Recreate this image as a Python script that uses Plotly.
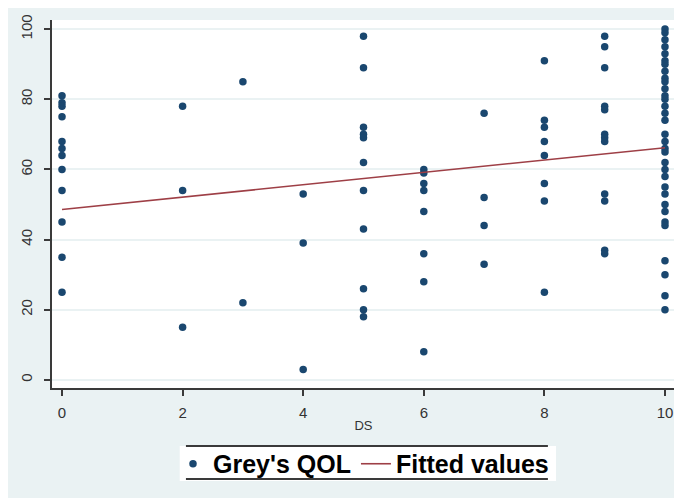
import plotly.graph_objects as go

# ---- data ----
ds_0 = [81, 79, 78, 75, 68, 66, 64, 60, 54, 45, 35, 25]
ds_2 = [78, 54, 15]
ds_3 = [85, 22]
ds_4 = [53, 39, 3]
ds_5 = [98, 89, 72, 70, 69, 62, 54, 43, 26, 20, 18]
ds_6 = [60, 59, 56, 54, 48, 36, 28, 8]
ds_7 = [76, 52, 44, 33]
ds_8 = [91, 74, 72, 68, 64, 56, 51, 25]
ds_9 = [98, 95, 89, 78, 77, 70, 69, 68, 53, 51, 37, 36]
ds_10 = [100, 99, 97, 95, 93, 91, 90, 88, 86, 85, 83, 81, 80, 78, 76, 74,
         70, 68, 66, 65, 62, 60, 58, 55, 53, 50, 48, 45, 44, 34, 30, 24, 20]

groups = {0: ds_0, 2: ds_2, 3: ds_3, 4: ds_4, 5: ds_5, 6: ds_6,
          7: ds_7, 8: ds_8, 9: ds_9, 10: ds_10}

ds_values = [k for k, v in groups.items() for _ in v]
qol_values = [q for v in groups.values() for q in v]

fit_x = [0, 10]
fit_y = [48.6, 66.2]

x_ticks = [0, 2, 4, 6, 8, 10]
y_ticks = [0, 20, 40, 60, 80, 100]

# ---- styles ----
NAVY = "#1A476F"
MAROON = "#9E3F46"
BLUISH = "#EAF2F3"
AXIS = "#3A3A3A"

fig = go.Figure()
fig.add_trace(go.Scatter(
    x=ds_values, y=qol_values, mode="markers", name="Grey's QOL",
    marker=dict(color=NAVY, size=7.5, line=dict(width=0)),
))
fig.add_trace(go.Scatter(
    x=fit_x, y=fit_y, mode="lines", name="Fitted values",
    line=dict(color=MAROON, width=1.6),
))

# legend frame: white box with top/bottom rules (paper coordinates)
frame_shapes = [
    dict(type="rect", xref="paper", yref="paper", x0=0.205, x1=0.809,
         y0=-0.2527, y1=-0.1576, fillcolor="white", line=dict(width=0),
         layer="below"),
    dict(type="line", xref="paper", yref="paper", x0=0.215, x1=0.796,
         y0=-0.1576, y1=-0.1576, line=dict(color=AXIS, width=2)),
    dict(type="line", xref="paper", yref="paper", x0=0.215, x1=0.796,
         y0=-0.2473, y1=-0.2473, line=dict(color=AXIS, width=2)),
]

fig.update_layout(
    width=674, height=490,
    margin=dict(l=44, r=7, t=12, b=110, autoexpand=False),
    paper_bgcolor=BLUISH,
    plot_bgcolor="white",
    font=dict(family="Liberation Sans, Arial, sans-serif", color="#222"),
    xaxis=dict(
        range=[-0.166, 10.166], tickvals=x_ticks, showgrid=False, zeroline=False,
        showline=True, linecolor=AXIS, linewidth=2, ticks="outside", ticklen=6,
        tickcolor=AXIS, tickwidth=1.5, tickfont=dict(size=15, color="#333"),
        ticklabelstandoff=4,
        title=dict(text="DS", font=dict(size=13, color="#333"), standoff=1),
    ),
    yaxis=dict(
        range=[-2.3, 102.6], tickvals=y_ticks, showgrid=True, gridcolor=BLUISH,
        gridwidth=1.5, zeroline=False, showline=True, linecolor=AXIS, linewidth=2,
        ticks="outside", ticklen=6, tickcolor=AXIS, tickwidth=1.5,
        tickangle=-90, tickfont=dict(size=15, color="#333"), ticklabelstandoff=6,
    ),
    legend=dict(
        orientation="h", x=0.5, xanchor="center", y=-0.2065, yanchor="middle",
        bgcolor="rgba(0,0,0,0)", borderwidth=0, itemwidth=30,
        font=dict(size=25, color="black", family="Liberation Sans, Arial, sans-serif",
                  weight="bold"),
    ),
    shapes=frame_shapes,
    showlegend=True,
)

fig.write_html("out.html")
